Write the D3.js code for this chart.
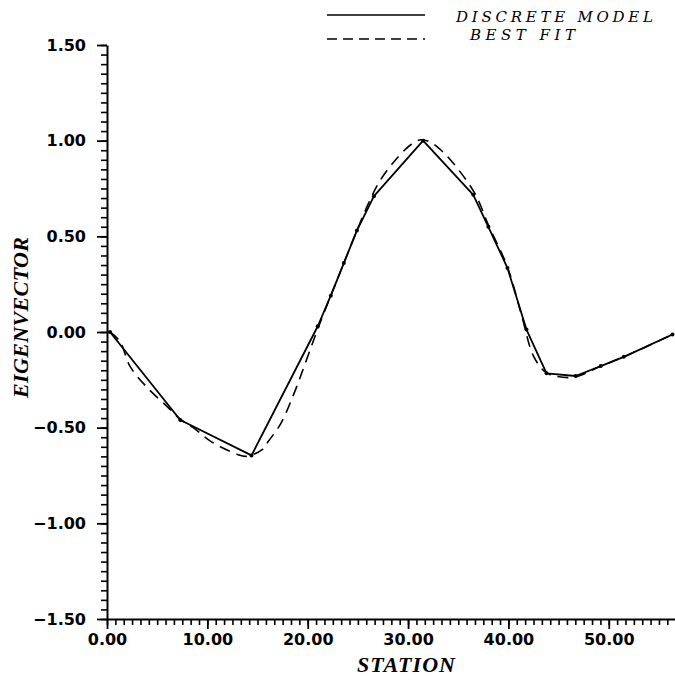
<!DOCTYPE html>
<html>
<head>
<meta charset="utf-8">
<script src="https://cdn.jsdelivr.net/npm/d3@7"></script>
<style>
  html, body { margin: 0; padding: 0; background: #fff; }
  svg { display: block; }
</style>
</head>
<body>
<svg id="chart" width="675" height="681"></svg>
<script>
// ---- data ----
const stations = [0.3, 7.3, 14.4, 21.0, 22.3, 23.6, 24.9, 26.6, 31.5, 36.5, 38.0, 39.9, 41.8, 43.8, 46.7, 49.2, 51.5, 56.35];
const discreteModel = [0.0, -0.46, -0.645, 0.03, 0.19, 0.36, 0.53, 0.71, 1.0, 0.717, 0.55, 0.335, 0.013, -0.216, -0.23, -0.178, -0.13, -0.013];

const fitStations = [0.3, 1.3, 2.3, 4.0, 6.0, 7.3, 8.6, 10.3, 13.0, 13.9, 15.5, 16.1, 17.3, 18.6, 21.1, 22.3, 23.6, 24.9, 26.3, 27.2, 28.6, 30.3, 31.3, 32.3, 33.5, 35.0, 36.7, 38.0, 39.9, 41.3, 42.5, 43.7, 44.8, 46.7, 49.2, 51.5, 56.35];
const bestFit =     [0.0, -0.05, -0.18, -0.29, -0.39, -0.456, -0.50, -0.57, -0.64, -0.65, -0.613, -0.57, -0.48, -0.326, 0.03, 0.19, 0.36, 0.53, 0.70, 0.79, 0.89, 0.98, 1.005, 0.99, 0.94, 0.85, 0.72, 0.56, 0.34, 0.09, -0.126, -0.21, -0.232, -0.235, -0.178, -0.13, -0.013];

const xTickValues = [0, 10, 20, 30, 40, 50];
const yTickValues = [-1.5, -1.0, -0.5, 0.0, 0.5, 1.0, 1.5];
const legendLabels = ["DISCRETE MODEL", "BEST FIT"];
const xTitle = "STATION";
const yTitle = "EIGENVECTOR";

// ---- layout ----
const svg = d3.select("#chart");
const x = d3.scaleLinear().domain([0, 56.6]).range([107, 675]);
const y = d3.scaleLinear().domain([-1.5, 1.5]).range([619, 45]);

const fmt = v => (v < 0 ? "\u2212" : "") + Math.abs(v).toFixed(2);
const tickFont = "'DejaVu Sans', sans-serif";
const serif = "'Liberation Serif', 'Times New Roman', serif";
const legendSerif = "'DejaVu Serif', serif";

// minor ticks
const xMinor = d3.range(0, 56.6, 10 / 12);
const yMinor = d3.range(-1.5, 1.5001, 0.05);

const yMinorAxis = d3.axisLeft(y).tickValues(yMinor).tickSize(6).tickSizeOuter(0).tickFormat("");
const xMinorAxis = d3.axisBottom(x).tickValues(xMinor).tickSize(6).tickSizeOuter(0).tickFormat("");

svg.append("g").attr("transform", `translate(${x(0)},0)`).call(yMinorAxis)
  .call(g => g.select(".domain").remove())
  .selectAll("line").attr("stroke", "#000").attr("stroke-width", 1.6);
svg.append("g").attr("transform", `translate(0,${y(-1.5)})`).call(xMinorAxis)
  .call(g => g.select(".domain").remove())
  .selectAll("line").attr("stroke", "#000").attr("stroke-width", 1.6);

const yAxis = d3.axisLeft(y).tickValues(yTickValues).tickSize(10).tickSizeOuter(0).tickPadding(11).tickFormat(fmt);
const xAxis = d3.axisBottom(x).tickValues(xTickValues).tickSize(10).tickSizeOuter(0).tickPadding(5).tickFormat(fmt);

const gy = svg.append("g").attr("transform", `translate(${x(0)},0)`).call(yAxis);
const gx = svg.append("g").attr("transform", `translate(0,${y(-1.5)})`).call(xAxis);
[gy, gx].forEach(g => {
  g.select(".domain").attr("stroke", "#000").attr("stroke-width", 2);
  g.selectAll(".tick line").attr("stroke", "#000").attr("stroke-width", 1.8);
  g.selectAll(".tick text").attr("fill", "#000").style("font-family", tickFont)
    .style("font-size", "16px").style("font-weight", "bold");
});

// ---- lines ----
const solidLine = d3.line().x((d, i) => x(stations[i])).y(d => y(d));
svg.append("path").datum(discreteModel)
  .attr("d", solidLine).attr("fill", "none").attr("stroke", "#000")
  .attr("stroke-width", 1.8).attr("stroke-linejoin", "round");

svg.append("g").selectAll("circle").data(discreteModel).join("circle")
  .attr("cx", (d, i) => x(stations[i])).attr("cy", d => y(d)).attr("r", 2).attr("fill", "#000");

const fitLine = d3.line().x((d, i) => x(fitStations[i])).y(d => y(d)).curve(d3.curveCatmullRom.alpha(0.5));
svg.append("path").datum(bestFit)
  .attr("d", fitLine).attr("fill", "none").attr("stroke", "#000")
  .attr("stroke-width", 1.6).attr("stroke-dasharray", "11,7");

// ---- legend ----
svg.append("line").attr("x1", 327).attr("x2", 425).attr("y1", 15).attr("y2", 15)
  .attr("stroke", "#000").attr("stroke-width", 1.6);
svg.append("line").attr("x1", 327).attr("x2", 425).attr("y1", 39).attr("y2", 39)
  .attr("stroke", "#000").attr("stroke-width", 1.6).attr("stroke-dasharray", "10,6");
svg.append("text").attr("x", 456).attr("y", 22).text(legendLabels[0])
  .attr("textLength", 197).attr("lengthAdjust", "spacing")
  .style("font-family", legendSerif).style("font-style", "italic").style("font-size", "15px");
svg.append("text").attr("x", 470).attr("y", 40).text(legendLabels[1])
  .attr("textLength", 105).attr("lengthAdjust", "spacing")
  .style("font-family", legendSerif).style("font-style", "italic").style("font-size", "15px");

// ---- axis titles ----
svg.append("text").attr("x", 357).attr("y", 672).text(xTitle)
  .attr("textLength", 98).attr("lengthAdjust", "spacing")
  .style("font-family", serif).style("font-style", "italic").style("font-weight", "bold").style("font-size", "22px");
svg.append("text").attr("transform", "translate(28,398) rotate(-90)").text(yTitle)
  .attr("textLength", 161).attr("lengthAdjust", "spacing")
  .style("font-family", serif).style("font-style", "italic").style("font-weight", "bold").style("font-size", "22px");
</script>
</body>
</html>
